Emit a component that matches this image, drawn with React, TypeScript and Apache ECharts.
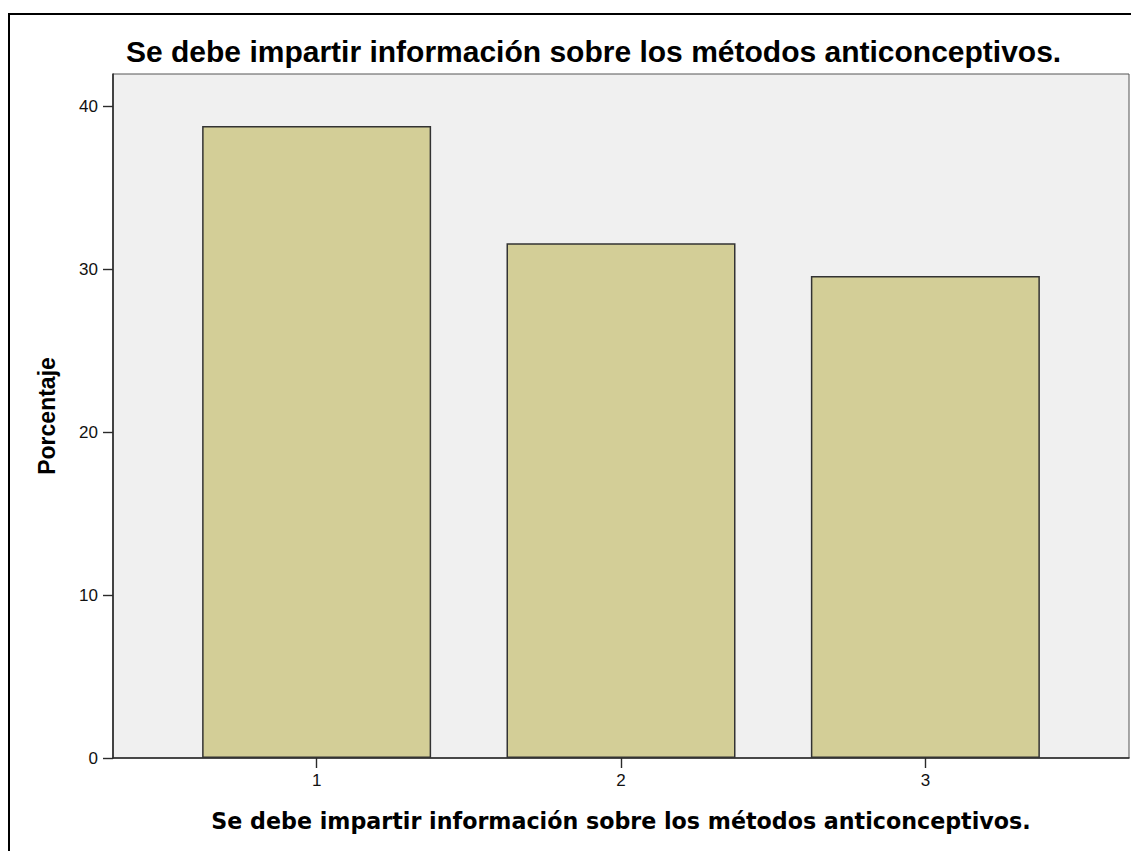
import React, { useEffect, useRef } from "react";
import * as echarts from "echarts";

const titleText = "Se debe impartir información sobre los métodos anticonceptivos.";
const xAxisName = "Se debe impartir información sobre los métodos anticonceptivos.";
const yAxisName = "Porcentaje";
const categories = [1, 2, 3];
const percentages = [38.8, 31.6, 29.6];
const yTicks = [0, 10, 20, 30, 40];

export default function App() {
  const ref = useRef<HTMLDivElement>(null);
  useEffect(() => {
    if (!ref.current) return;
    const chart = echarts.init(ref.current, null, { renderer: "svg" });
    chart.setOption({
      animation: false,
      backgroundColor: "#ffffff",
      textStyle: { fontFamily: "Liberation Sans, Arial, sans-serif" },
      title: {
        text: titleText,
        left: 126,
        top: 36,
        padding: 0,
        textStyle: { fontSize: 30, fontWeight: "bold", color: "#000", fontFamily: "Liberation Sans, Arial, sans-serif" },
      },
      graphic: [
        {
          type: "rect",
          shape: { x: 9, y: 14, width: 1140, height: 860 },
          style: { fill: "none", stroke: "#000", lineWidth: 2 },
          silent: true,
        },
      ],
      grid: {
        left: 113,
        top: 74,
        width: 1016,
        height: 684,
        show: true,
        backgroundColor: "#f0f0f0",
        borderColor: "#555",
        borderWidth: 1,
      },
      xAxis: {
        type: "value",
        min: 1 - 0.669,
        max: 3 + 0.669,
        name: xAxisName,
        nameLocation: "middle",
        nameGap: 52,
        nameTextStyle: { fontSize: 22.2, fontWeight: "bold", color: "#000", fontFamily: "DejaVu Sans, sans-serif" },
        axisLine: { show: true, lineStyle: { color: "#2a2a2a", width: 1.6 } },
        axisTick: { show: true, customValues: categories, length: 10, lineStyle: { color: "#2a2a2a", width: 1.4 } },
        axisLabel: { customValues: categories, margin: 14, fontSize: 17, color: "#111" },
        splitLine: { show: false },
      },
      yAxis: {
        type: "value",
        min: 0,
        max: 42,
        name: yAxisName,
        nameLocation: "middle",
        nameGap: 55,
        nameTextStyle: { fontSize: 23, fontWeight: "bold", color: "#000" },
        axisLine: { show: true, lineStyle: { color: "#2a2a2a", width: 1.6 } },
        axisTick: { show: true, customValues: yTicks, length: 10, lineStyle: { color: "#2a2a2a", width: 1.4 } },
        axisLabel: { customValues: yTicks, margin: 15, fontSize: 17, color: "#111" },
        splitLine: { show: false },
      },
      series: [
        {
          type: "bar",
          barWidth: 229,
          data: categories.map((c, i) => [c, percentages[i]]),
          itemStyle: { color: "#d3ce97", borderColor: "#333", borderWidth: 1.5 },
        },
      ],
    });
    return () => chart.dispose();
  }, []);
  return <div ref={ref} style={{ position: "fixed", left: 0, top: 0, width: 1131, height: 851 }} />;
}
